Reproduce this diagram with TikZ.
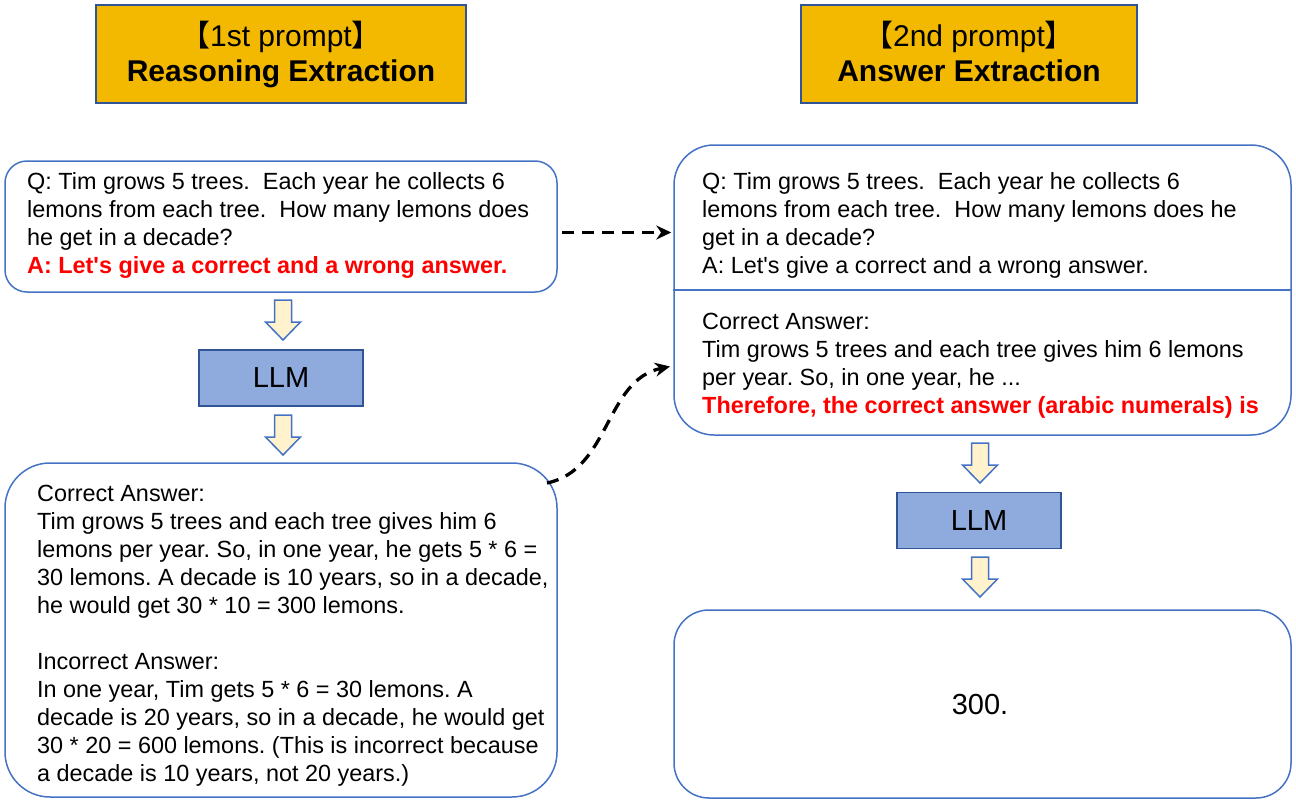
\documentclass[tikz,border=0pt]{standalone}
\usepackage{fontspec}
\setmainfont{Liberation Sans}[Ligatures=TeXOff]
\newfontfamily\cjk{Noto Sans CJK SC}
\usetikzlibrary{arrows.meta}
\definecolor{gold}{RGB}{242,185,0}
\definecolor{hdrborder}{RGB}{47,85,151}
\definecolor{boxblue}{RGB}{68,114,196}
\definecolor{llmfill}{RGB}{143,170,220}
\definecolor{llmborder}{RGB}{47,85,151}
\definecolor{arrowfill}{RGB}{255,242,204}
\definecolor{hotred}{RGB}{255,0,0}
\newcommand\fatdown[2]{%
  \draw[fatarrow] (#1-8.5,#2) -- (#1+8.5,#2) -- (#1+8.5,#2+22) -- (#1+17.5,#2+22)
    -- (#1,#2+40) -- (#1-17.5,#2+22) -- (#1-8.5,#2+22) -- cycle;}
\frenchspacing
\begin{document}
\begin{tikzpicture}[x=1pt,y=-1pt,
  hdr/.style={draw=hdrborder, fill=gold, line width=1.2pt, minimum height=98, inner sep=0pt,
    align=center, font=\fontsize{30}{35}\selectfont},
  roundbox/.style={draw=boxblue, line width=1.5pt, inner sep=0pt},
  llmbox/.style={draw=llmborder, fill=llmfill, line width=1.5pt, minimum width=164,
    minimum height=56, inner sep=0pt, font=\fontsize{29}{34}\selectfont},
  body/.style={font=\fontsize{23.4}{28}\selectfont, align=left, anchor=north west, inner sep=0pt},
  fatarrow/.style={draw=boxblue, fill=arrowfill, line width=1.5pt, line join=miter},
  flow/.style={black, line width=3.3pt, dash pattern=on 12pt off 8pt,
    -{Stealth[length=15pt,width=14pt]}},
  big/.style={inner sep=0pt, font=\fontsize{29}{34}\selectfont}]
\useasboundingbox (0,0) rectangle (1296,803);

% headers
\node[hdr, minimum width=370] (h1) at (281,54)
  {{\cjk 【}1st prompt{\cjk 】}\\\textbf{Reasoning Extraction}};
\node[hdr, minimum width=336] (h2) at (969,54)
  {{\cjk 【}2nd prompt{\cjk 】}\\\textbf{Answer Extraction\vphantom{g}}};

% left column
\node[roundbox, minimum width=552, minimum height=131, rounded corners=22] (q) at (281,226.5) {};
\node[body] (qt) at (27,172.5)
  {Q: Tim grows 5 trees.\ \ Each year he collects 6\\
   lemons from each tree.\ \ How many lemons does\\
   he get in a decade?\\
   \textcolor{hotred}{\bfseries A: Let's give a correct and a wrong answer.}};

\fatdown{283}{300}
\node[llmbox] (llm1) at (281,378) {LLM};
\fatdown{283}{415}

\node[roundbox, minimum width=552, minimum height=334, rounded corners=45] (a) at (281,630) {};
\node[body] (at) at (37,484.5)
  {Correct Answer:\\
   Tim grows 5 trees and each tree gives him 6\\
   lemons per year. So, in one year, he gets 5 * 6 =\\
   30 lemons. A decade is 10 years, so in a decade,\\
   he would get 30 * 10 = 300 lemons.\\[28pt]
   Incorrect Answer:\\
   In one year, Tim gets 5 * 6 = 30 lemons. A\\
   decade is 20 years, so in a decade, he would get\\
   30 * 20 = 600 lemons. (This is incorrect because\\
   a decade is 10 years, not 20 years.)};

% right column
\node[roundbox, minimum width=617, minimum height=290, rounded corners=40] (r) at (982.5,290) {};
\draw[draw=boxblue, line width=1.5pt] (r.west) -- (r.east);
\node[body] (rt1) at (702,172.5)
  {Q: Tim grows 5 trees.\ \ Each year he collects 6\\
   lemons from each tree.\ \ How many lemons does he\\
   get in a decade?\\
   A: Let's give a correct and a wrong answer.};
\node[body] (rt2) at (702,312.5)
  {Correct Answer:\\
   Tim grows 5 trees and each tree gives him 6 lemons\\
   per year. So, in one year, he ...\\
   \textcolor{hotred}{\bfseries Therefore, the correct answer (arabic numerals) is}};

\fatdown{980}{443}
\node[llmbox] (llm2) at (979,520.5) {LLM};
\fatdown{980}{557}

\node[roundbox, minimum width=617, minimum height=188, rounded corners=35] (res) at (982.5,704) {};
\node[big] (rest) at (980,705) {300.};

% connectors
\coordinate (c1s) at (562,232.5);
\coordinate (c1e) at (r.west |- c1s);
\draw[flow, shorten >=2pt] (c1s) -- (c1e);
\coordinate (c2s) at (547,483);
\coordinate (c2e) at (670,366.5);
\draw[flow] (c2s) .. controls (610,470) and (605,380) .. (c2e);
\end{tikzpicture}
\end{document}
